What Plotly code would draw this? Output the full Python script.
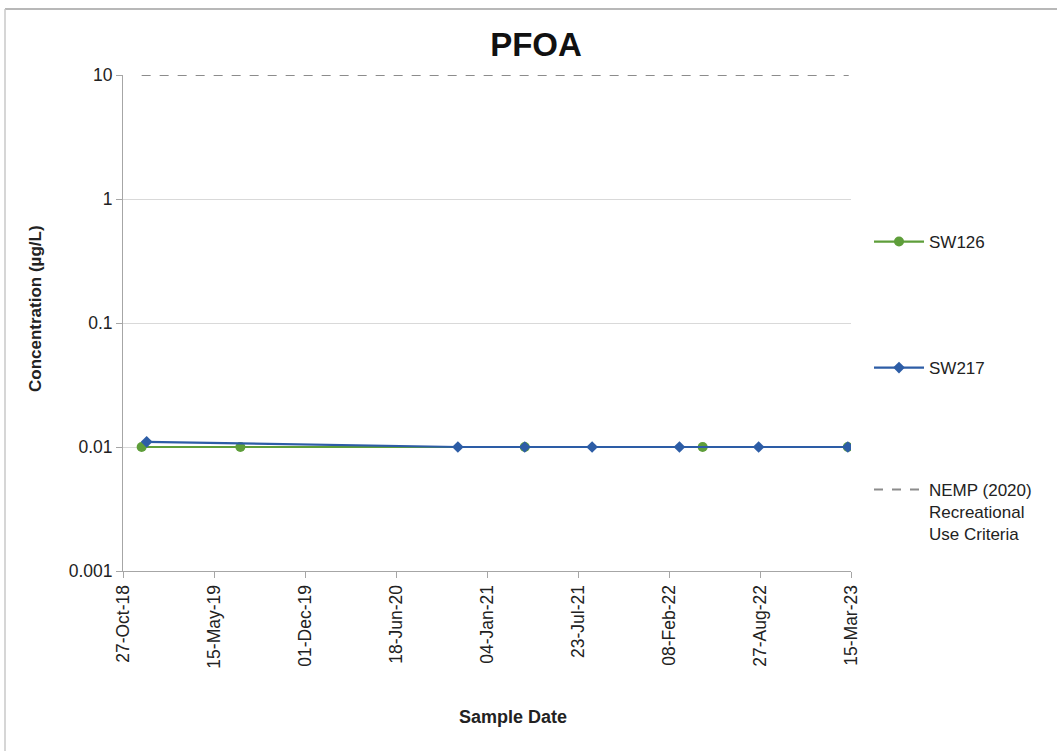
import plotly.graph_objects as go

# ---- data ----
sw126_dates = ["2018-12-07", "2019-07-12", "2021-03-28", "2022-04-23", "2023-03-08"]
sw126_values = [0.01, 0.01, 0.01, 0.01, 0.01]

sw217_dates = ["2018-12-18", "2020-11-01", "2021-03-28", "2021-08-23",
               "2022-03-03", "2022-08-24", "2023-03-08"]
sw217_values = [0.011, 0.01, 0.01, 0.01, 0.01, 0.01, 0.01]

criteria_dates = ["2018-12-07", "2023-03-10"]
criteria_values = [10, 10]

x_tick_dates = ["2018-10-27", "2019-05-15", "2019-12-01", "2020-06-18", "2021-01-04",
                "2021-07-23", "2022-02-08", "2022-08-27", "2023-03-15"]
x_tick_labels = ["27-Oct-18", "15-May-19", "01-Dec-19", "18-Jun-20", "04-Jan-21",
                 "23-Jul-21", "08-Feb-22", "27-Aug-22", "15-Mar-23"]
y_tick_vals = [0.001, 0.01, 0.1, 1, 10]
y_tick_labels = ["0.001", "0.01", "0.1", "1", "10"]

GREEN = "#5e9e3a"
BLUE = "#2d5da6"
FONT = "Liberation Sans, Arial, sans-serif"

fig = go.Figure()
fig.add_trace(go.Scatter(
    x=sw126_dates, y=sw126_values, mode="lines+markers", name="SW126",
    line=dict(color=GREEN, width=2.2), marker=dict(symbol="circle", size=10, color=GREEN),
    legend="legend"))
fig.add_trace(go.Scatter(
    x=sw217_dates, y=sw217_values, mode="lines+markers", name="SW217",
    line=dict(color=BLUE, width=2.2), marker=dict(symbol="diamond", size=9, color=BLUE),
    legend="legend2"))
fig.add_trace(go.Scatter(
    x=criteria_dates, y=criteria_values, mode="lines",
    name="NEMP (2020)<br>Recreational<br>Use Criteria",
    line=dict(color="#8c8c8c", width=2, dash="dash"),
    legend="legend3"))

L, R, T, B = 123, 206, 75, 180
W, H = 1057, 751
pw, ph = W - L - R, H - T - B

def px_x(p):
    return (p - L) / pw

def px_y(p):
    return (H - B - p) / ph

legend_common = dict(font=dict(family=FONT, size=17, color="#222"), bgcolor="rgba(0,0,0,0)",
                     xanchor="left", itemwidth=50, tracegroupgap=0, visible=True)

fig.update_layout(
    width=W, height=H,
    margin=dict(l=L, r=R, t=T, b=B),
    paper_bgcolor="white", plot_bgcolor="white",
    font=dict(family=FONT, color="#222"),
    showlegend=True,
    title=dict(text="<b>PFOA</b>", x=536 / W, xref="container", xanchor="center",
               y=1 - 44 / H, yref="container", yanchor="middle",
               font=dict(family=FONT, size=33, color="#111")),
    xaxis=dict(
        type="date", range=["2018-10-27", "2023-03-15"],
        tickvals=x_tick_dates, ticktext=x_tick_labels, tickangle=-90,
        tickfont=dict(family=FONT, size=17.5, color="#222"),
        showgrid=False, showline=True, linecolor="#a6a6a6", linewidth=1,
        ticks="outside", ticklen=6, tickcolor="#a6a6a6",
        zeroline=False),
    yaxis=dict(
        type="log", range=[-3, 1],
        tickvals=y_tick_vals, ticktext=y_tick_labels,
        tickfont=dict(family=FONT, size=17.5, color="#222"),
        showgrid=True, gridcolor="#d9d9d9", gridwidth=1,
        showline=True, linecolor="#a6a6a6", linewidth=1,
        ticks="outside", ticklen=6, tickcolor="#a6a6a6",
        zeroline=False),
    legend=dict(x=px_x(869), y=px_y(242), yanchor="middle", **legend_common),
    legend2=dict(x=px_x(869), y=px_y(368), yanchor="middle", **legend_common),
    legend3=dict(x=px_x(869), y=px_y(472), yanchor="top", valign="top", **legend_common),
    annotations=[
        dict(text="<b>Sample Date</b>", xref="paper", yref="paper", x=px_x(513), y=px_y(717),
             xanchor="center", yanchor="middle", showarrow=False,
             font=dict(family=FONT, size=18, color="#222")),
        dict(text="<b>Concentration (µg/L)</b>", xref="paper", yref="paper", x=px_x(35), y=px_y(309),
             xanchor="center", yanchor="middle", showarrow=False, textangle=-90,
             font=dict(family=FONT, size=17, color="#222")),
    ],
    shapes=[
        dict(type="line", xref="paper", yref="paper", x0=px_x(5), x1=px_x(1057),
             y0=px_y(9), y1=px_y(9), line=dict(color="#a0a0a0", width=1.5)),
        dict(type="line", xref="paper", yref="paper", x0=px_x(5), x1=px_x(5),
             y0=px_y(9), y1=px_y(751), line=dict(color="#c8c8c8", width=1.5)),
    ],
)

fig.write_html("out.html", config={"displayModeBar": False},
               post_script="document.body.style.margin='0';")
